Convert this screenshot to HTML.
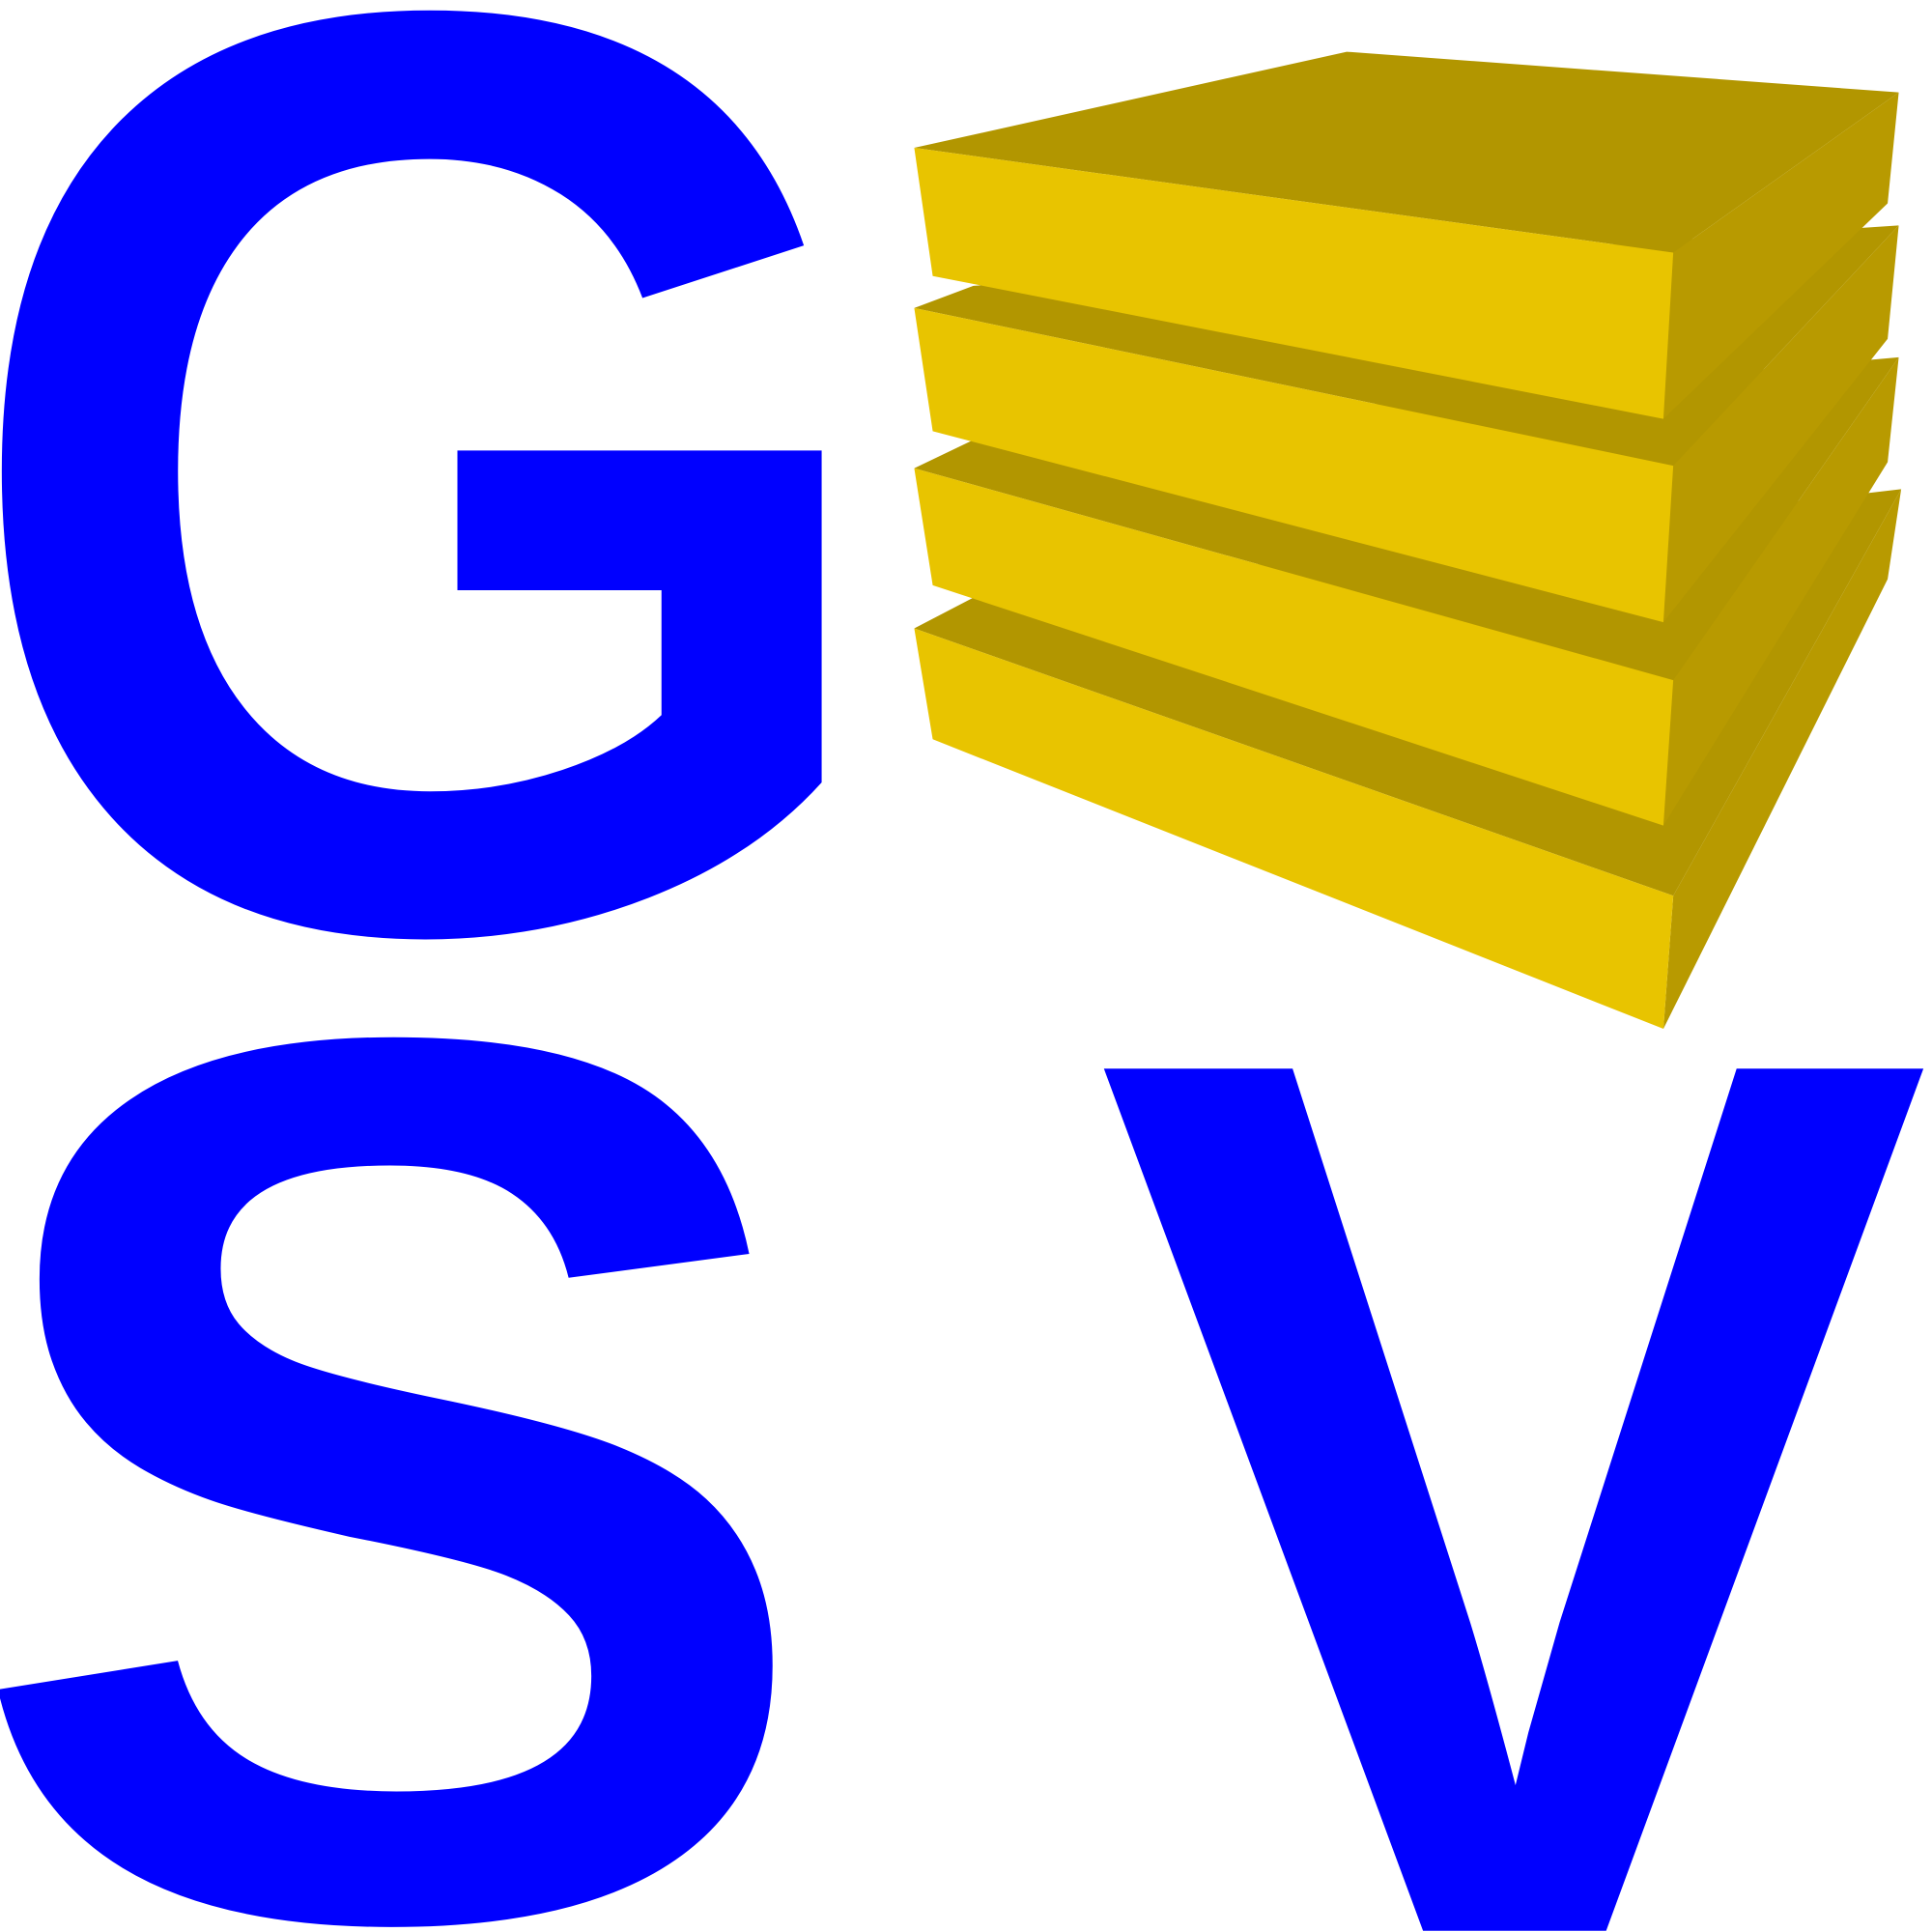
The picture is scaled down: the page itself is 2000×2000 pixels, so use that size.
<!DOCTYPE html>
<html><head><meta charset="utf-8"><style>html,body{margin:0;padding:0;background:#fff;width:2000px;height:2000px;overflow:hidden}</style></head>
<body>
<svg width="2000" height="2000" viewBox="0 0 1568 1568" preserveAspectRatio="none" xmlns="http://www.w3.org/2000/svg" style="display:block;overflow:hidden">
<g font-family="Liberation Sans, Arial, sans-serif" font-weight="bold" fill="#0000ff">
<text x="-39" y="752" font-size="1065" textLength="767" lengthAdjust="spacingAndGlyphs">G</text>
<text x="-32" y="1554" font-size="1020" textLength="700" lengthAdjust="spacingAndGlyphs">S</text>
<text x="889" y="1567" font-size="1017" textLength="679" lengthAdjust="spacingAndGlyphs">V</text>
</g>
<g>
<g>
<polygon points="742,510 790,485 1543,397 1358,727" fill="#b29600"/>
<polygon points="1358,727 1543,397 1532,470 1350,835" fill="#b89a00"/>
<polygon points="742,510 1358,727 1350,835 757,600" fill="#e8c400"/>
</g>
<g>
<polygon points="742,380 790,357 1541,290 1358,552" fill="#b29600"/>
<polygon points="1358,552 1541,290 1532,375 1350,670" fill="#b89a00"/>
<polygon points="742,380 1358,552 1350,670 757,475" fill="#e8c400"/>
</g>
<g>
<polygon points="742,250 790,232 1541,183 1358,378" fill="#b29600"/>
<polygon points="1358,378 1541,183 1532,275 1350,505" fill="#b89a00"/>
<polygon points="742,250 1358,378 1350,505 757,350" fill="#e8c400"/>
</g>
<g>
<polygon points="742,120 1093,42 1541,75 1358,205" fill="#b29600"/>
<polygon points="1358,205 1541,75 1532,165 1350,340" fill="#b89a00"/>
<polygon points="742,120 1358,205 1350,340 757,224" fill="#e8c400"/>
</g>
</g>
</svg>
</body></html>
